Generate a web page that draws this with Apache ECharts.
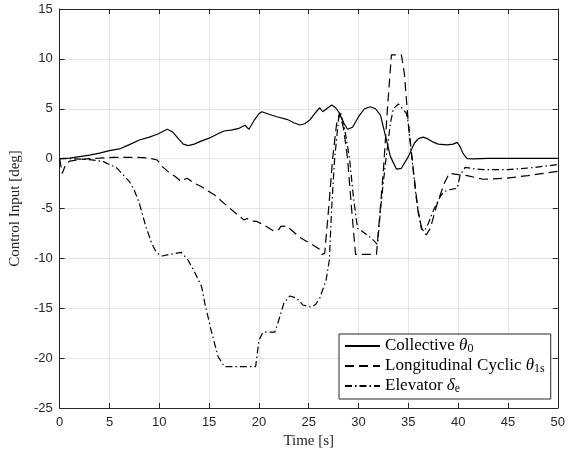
<!DOCTYPE html>
<html>
<head>
<meta charset="utf-8">
<script src="https://cdn.jsdelivr.net/npm/echarts@6/dist/echarts.min.js"></script>
<style>
html,body{margin:0;padding:0;background:#fff;}
#chart{width:568px;height:454px;}
</style>
</head>
<body>
<div id="chart"></div>
<script>
// Time axis ticks and value ticks
const xTicks = [0,5,10,15,20,25,30,35,40,45,50];
const yTicks = [-25,-20,-15,-10,-5,0,5,10,15];

// Collective theta_0
const tCol = [0,1,2,3,4,5,6,7,8,9,9.8,10.3,10.8,11.3,12.0,12.4,12.9,13.5,14.2,15.0,16.0,16.5,17.2,18.0,18.6,19.0,19.5,20.0,20.3,21.0,21.8,22.8,23.5,24.1,24.6,25.1,25.6,26.1,26.4,26.8,27.3,27.7,28.06,28.5,28.9,29.4,30.0,30.6,31.2,31.7,32.2,32.8,33.2,33.8,34.3,35.0,35.6,36.0,36.5,37.0,37.5,38.0,38.9,39.5,39.9,40.2,40.5,40.9,41.5,43,45,50];
const vCol = [0,0.05,0.2,0.35,0.55,0.8,0.97,1.4,1.87,2.15,2.44,2.7,2.94,2.7,1.9,1.45,1.3,1.45,1.75,2.05,2.55,2.77,2.85,3.04,3.35,2.94,3.8,4.5,4.7,4.45,4.2,3.94,3.6,3.37,3.5,3.87,4.5,5.1,4.7,5.0,5.38,5.1,4.6,3.6,2.94,3.14,4.2,5.0,5.2,5.0,4.37,1.87,0.2,-1.05,-0.97,0.2,1.54,2.0,2.15,1.95,1.65,1.45,1.37,1.45,1.63,1.2,0.5,0.0,-0.02,0.02,0.03,0.03];

// Longitudinal cyclic theta_1s
const tLon = [0,0.25,0.6,1.0,2.0,3.0,4.0,5.4,7.7,9.0,9.8,10.3,11.0,11.6,12.2,12.5,12.8,13.4,14.2,15.55,16.9,17.7,18.5,18.8,19.2,19.8,20.5,21.5,22.0,22.2,22.8,24.1,25.4,26.1,26.35,26.6,27.0,27.4,27.8,28.1,28.5,28.9,29.3,29.7,31.8,32.1,32.5,32.9,33.3,34.3,34.6,35.0,35.5,36.0,36.4,36.8,37.2,37.9,38.6,39.1,40.0,40.9,42.5,44.8,47,50];
const vLon = [0,-1.5,-0.6,-0.25,-0.1,0,0.05,0.13,0.13,0.05,-0.14,-0.8,-1.4,-1.8,-2.3,-2.1,-1.97,-2.4,-2.8,-3.65,-4.82,-5.5,-6.15,-6.0,-6.25,-6.3,-6.65,-7.26,-7.1,-6.8,-6.75,-7.9,-8.66,-9.1,-9.6,-9.5,-5,0,3.5,4.6,3,0,-5,-9.6,-9.6,-6,-1.1,5,10.4,10.4,8.55,3.5,-1.1,-5.5,-7.2,-7.65,-7.0,-4.5,-2.5,-1.47,-1.6,-1.7,-2.07,-1.97,-1.7,-1.28];

// Elevator delta_e
const tEle = [0,1,2,3,3.4,4.4,5.0,5.7,6.35,7.0,7.5,8.0,8.65,9.2,9.6,10.0,10.3,11.0,11.6,12.2,12.9,13.6,14.24,14.57,15.2,15.9,16.54,19.67,20.0,20.4,21.6,22.1,22.5,23.1,23.8,24.4,25.3,25.7,26.1,26.75,27.07,27.3,27.6,28.0,28.2,28.6,29.1,29.5,29.9,30.2,31.3,31.9,32.3,32.7,33.2,33.5,34.0,34.8,35.0,35.3,35.8,36.3,36.6,37.0,37.6,38.2,38.6,39.2,39.9,40.2,40.7,41.5,42.5,45,47.5,50];
const vEle = [0,0,-0.05,-0.1,-0.15,-0.3,-0.6,-0.9,-1.6,-2.3,-3.2,-4.5,-6.8,-8.4,-9.2,-9.65,-9.76,-9.6,-9.5,-9.4,-10.2,-11.5,-12.8,-14.5,-17.2,-19.86,-20.86,-20.86,-18.2,-17.4,-17.4,-15.85,-14.5,-13.77,-14.0,-14.67,-14.9,-14.6,-14.0,-12.17,-10.16,-5,0,4,4.6,3,0,-4,-7,-7.15,-7.99,-8.6,-4.15,-0.47,3.54,5.0,5.48,4.55,3.54,0.53,-4,-7.0,-7.3,-6.5,-5.0,-3.8,-3.3,-3.1,-2.98,-1.64,-0.87,-1.0,-1.1,-1.1,-0.9,-0.6];

const seriesNames = ['Collective', 'Longitudinal Cyclic', 'Elevator'];
const legendLabels = [
  'Collective {m|θ}{s|0}',
  'Longitudinal Cyclic {m|θ}{s|1s}',
  'Elevator {m|δ}{s|e}'
];

function pairs(t, v){ return t.map((x,i)=>[x, v[i]]); }

const chart = echarts.init(document.getElementById('chart'), null, {renderer:'canvas'});
const serif = '"Liberation Serif", "DejaVu Serif", serif';
const sans = '"Liberation Sans", Arial, Helvetica, sans-serif';
const axisColor = '#262626';
const gridColor = '#e3e3e3';

const lineBase = {type:'line', showSymbol:false, symbol:'none', animation:false, xAxisIndex:0, yAxisIndex:0};

chart.setOption({
  animation:false,
  backgroundColor:'#fff',
  grid:{left:56, right:6, top:9, bottom:46},
  xAxis:[{
    type:'value', min:0, max:50, interval:5,
    axisLine:{show:true, onZero:false, lineStyle:{color:axisColor, width:1}},
    axisTick:{show:true, inside:true, length:5, lineStyle:{color:axisColor}},
    axisLabel:{color:'#262626', fontFamily:sans, fontSize:13, margin:8},
    splitLine:{show:true, lineStyle:{color:gridColor, width:1}},
    name:'Time [s]', nameLocation:'middle', nameGap:26,
    nameTextStyle:{fontFamily:serif, fontSize:15, color:'#262626'}
  },{
    type:'value', min:0, max:50, interval:5, position:'top',
    axisLine:{show:true, onZero:false, lineStyle:{color:axisColor, width:1}},
    axisTick:{show:true, inside:true, length:5, lineStyle:{color:axisColor}},
    axisLabel:{show:false}, splitLine:{show:false}
  }],
  yAxis:[{
    type:'value', min:-25, max:15, interval:5,
    axisLine:{show:true, onZero:false, lineStyle:{color:axisColor, width:1}},
    axisTick:{show:true, inside:true, length:5, lineStyle:{color:axisColor}},
    axisLabel:{color:'#262626', fontFamily:sans, fontSize:13, margin:7},
    splitLine:{show:true, lineStyle:{color:gridColor, width:1}},
    name:'Control Input [deg]', nameLocation:'middle', nameGap:36,
    nameTextStyle:{fontFamily:serif, fontSize:15, color:'#262626'}
  },{
    type:'value', min:-25, max:15, interval:5, position:'right',
    axisLine:{show:true, onZero:false, lineStyle:{color:axisColor, width:1}},
    axisTick:{show:true, inside:true, length:5, lineStyle:{color:axisColor}},
    axisLabel:{show:false}, splitLine:{show:false}
  }],
  legend:{
    show:true, orient:'vertical', left:339, top:334,
    data:seriesNames,
    itemWidth:35, itemHeight:14, itemGap:2,
    padding:[3,6,4,5],
    backgroundColor:'#fff', borderColor:axisColor, borderWidth:1, borderRadius:0,
    itemStyle:{opacity:0},
    formatter:function(name){ return legendLabels[seriesNames.indexOf(name)]; },
    textStyle:{
      fontFamily:serif, fontSize:17, color:'#000', lineHeight:18,
      rich:{
        m:{fontFamily:serif, fontSize:17, fontStyle:'italic', color:'#000', lineHeight:18},
        s:{fontFamily:serif, fontSize:12, color:'#000', lineHeight:9, verticalAlign:'bottom'}
      }
    }
  },
  series:[
    Object.assign({}, lineBase, {name:seriesNames[0], data:pairs(tCol, vCol),
      lineStyle:{color:'#000', width:1.2, type:'solid'}, itemStyle:{color:'#000'}}),
    Object.assign({}, lineBase, {name:seriesNames[1], data:pairs(tLon, vLon),
      lineStyle:{color:'#000', width:1.2, type:[9,5]}, itemStyle:{color:'#000'}}),
    Object.assign({}, lineBase, {name:seriesNames[2], data:pairs(tEle, vEle),
      lineStyle:{color:'#000', width:1.2, type:[7,3,1.5,3]}, itemStyle:{color:'#000'}})
  ]
});
</script>
</body>
</html>
